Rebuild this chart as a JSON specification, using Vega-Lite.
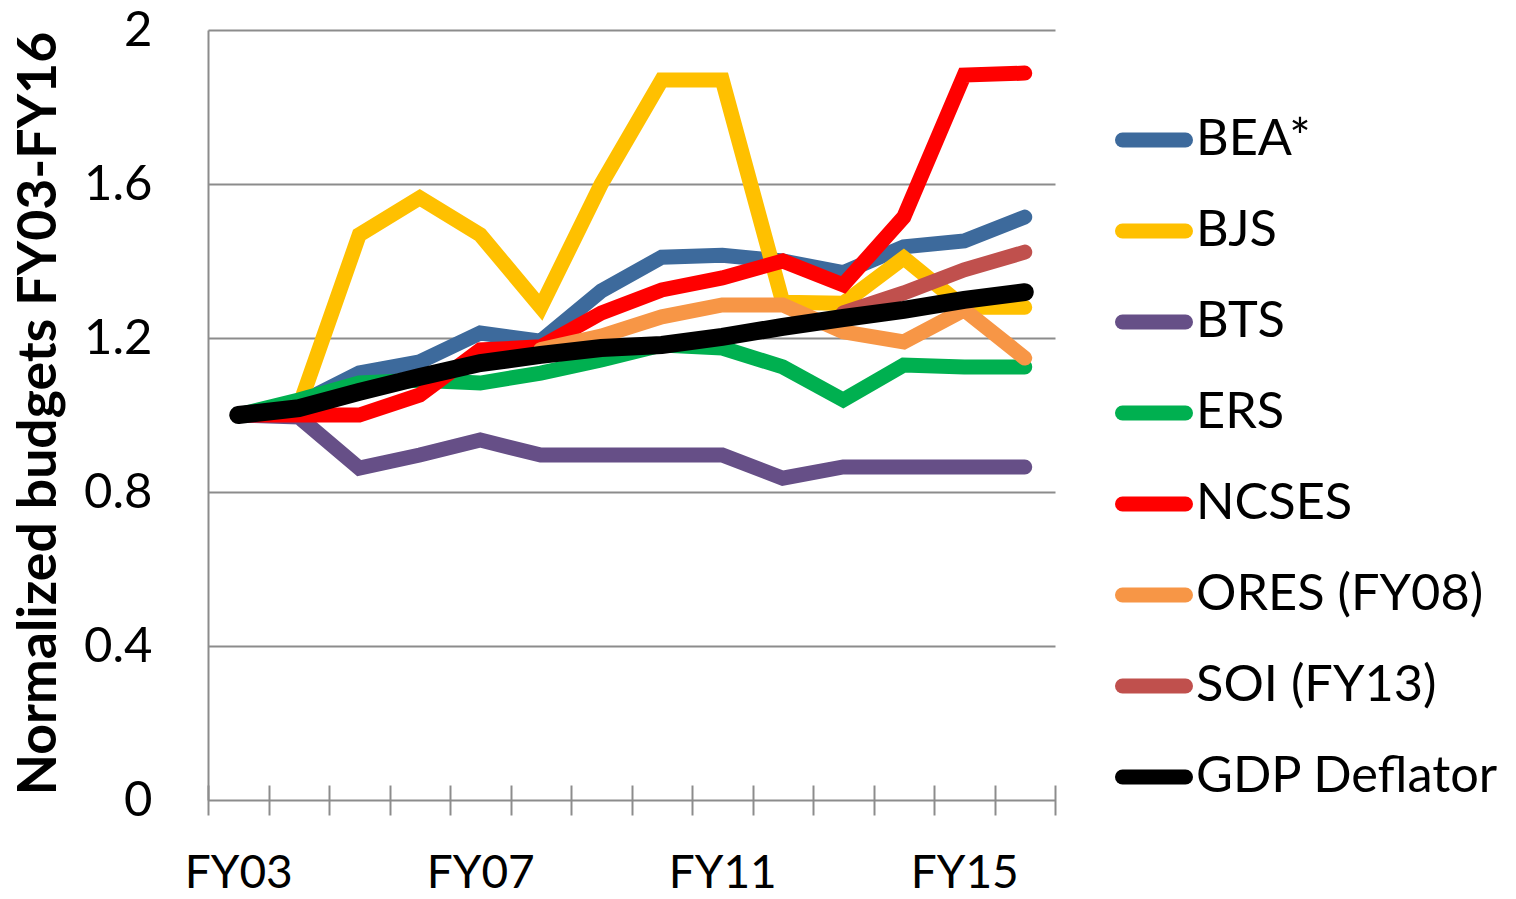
{
  "$schema": "https://vega.github.io/schema/vega-lite/v6.json",
  "width": 847,
  "height": 770,
  "autosize": "none",
  "padding": {"left": 208, "top": 30, "right": 461, "bottom": 99},
  "background": "white",
  "config": {"font": "Lato", "view": {"stroke": null}},
  "data": {"values": [
    {"series": "BEA*", "year": 2003, "value": 1.0},
    {"series": "BEA*", "year": 2004, "value": 1.03},
    {"series": "BEA*", "year": 2005, "value": 1.109},
    {"series": "BEA*", "year": 2006, "value": 1.138},
    {"series": "BEA*", "year": 2007, "value": 1.213},
    {"series": "BEA*", "year": 2008, "value": 1.192},
    {"series": "BEA*", "year": 2009, "value": 1.322},
    {"series": "BEA*", "year": 2010, "value": 1.41},
    {"series": "BEA*", "year": 2011, "value": 1.415},
    {"series": "BEA*", "year": 2012, "value": 1.4},
    {"series": "BEA*", "year": 2013, "value": 1.37},
    {"series": "BEA*", "year": 2014, "value": 1.437},
    {"series": "BEA*", "year": 2015, "value": 1.452},
    {"series": "BEA*", "year": 2016, "value": 1.514},
    {"series": "BJS", "year": 2003, "value": 1.0},
    {"series": "BJS", "year": 2004, "value": 1.02},
    {"series": "BJS", "year": 2005, "value": 1.468},
    {"series": "BJS", "year": 2006, "value": 1.564},
    {"series": "BJS", "year": 2007, "value": 1.468},
    {"series": "BJS", "year": 2008, "value": 1.28},
    {"series": "BJS", "year": 2009, "value": 1.6},
    {"series": "BJS", "year": 2010, "value": 1.87},
    {"series": "BJS", "year": 2011, "value": 1.87},
    {"series": "BJS", "year": 2012, "value": 1.293},
    {"series": "BJS", "year": 2013, "value": 1.29},
    {"series": "BJS", "year": 2014, "value": 1.408},
    {"series": "BJS", "year": 2015, "value": 1.28},
    {"series": "BJS", "year": 2016, "value": 1.28},
    {"series": "BTS", "year": 2003, "value": 1.0},
    {"series": "BTS", "year": 2004, "value": 0.995},
    {"series": "BTS", "year": 2005, "value": 0.862},
    {"series": "BTS", "year": 2006, "value": 0.896},
    {"series": "BTS", "year": 2007, "value": 0.935},
    {"series": "BTS", "year": 2008, "value": 0.896},
    {"series": "BTS", "year": 2009, "value": 0.896},
    {"series": "BTS", "year": 2010, "value": 0.896},
    {"series": "BTS", "year": 2011, "value": 0.896},
    {"series": "BTS", "year": 2012, "value": 0.836},
    {"series": "BTS", "year": 2013, "value": 0.865},
    {"series": "BTS", "year": 2014, "value": 0.865},
    {"series": "BTS", "year": 2015, "value": 0.865},
    {"series": "BTS", "year": 2016, "value": 0.865},
    {"series": "ERS", "year": 2003, "value": 1.0},
    {"series": "ERS", "year": 2004, "value": 1.039},
    {"series": "ERS", "year": 2005, "value": 1.083},
    {"series": "ERS", "year": 2006, "value": 1.09},
    {"series": "ERS", "year": 2007, "value": 1.083},
    {"series": "ERS", "year": 2008, "value": 1.109},
    {"series": "ERS", "year": 2009, "value": 1.143},
    {"series": "ERS", "year": 2010, "value": 1.182},
    {"series": "ERS", "year": 2011, "value": 1.174},
    {"series": "ERS", "year": 2012, "value": 1.125},
    {"series": "ERS", "year": 2013, "value": 1.039},
    {"series": "ERS", "year": 2014, "value": 1.13},
    {"series": "ERS", "year": 2015, "value": 1.125},
    {"series": "ERS", "year": 2016, "value": 1.125},
    {"series": "NCSES", "year": 2003, "value": 1.0},
    {"series": "NCSES", "year": 2004, "value": 1.0},
    {"series": "NCSES", "year": 2005, "value": 1.0},
    {"series": "NCSES", "year": 2006, "value": 1.052},
    {"series": "NCSES", "year": 2007, "value": 1.169},
    {"series": "NCSES", "year": 2008, "value": 1.177},
    {"series": "NCSES", "year": 2009, "value": 1.265},
    {"series": "NCSES", "year": 2010, "value": 1.325},
    {"series": "NCSES", "year": 2011, "value": 1.356},
    {"series": "NCSES", "year": 2012, "value": 1.4},
    {"series": "NCSES", "year": 2013, "value": 1.338},
    {"series": "NCSES", "year": 2014, "value": 1.514},
    {"series": "NCSES", "year": 2015, "value": 1.883},
    {"series": "NCSES", "year": 2016, "value": 1.888},
    {"series": "ORES (FY08)", "year": 2008, "value": 1.17},
    {"series": "ORES (FY08)", "year": 2009, "value": 1.205},
    {"series": "ORES (FY08)", "year": 2010, "value": 1.255},
    {"series": "ORES (FY08)", "year": 2011, "value": 1.286},
    {"series": "ORES (FY08)", "year": 2012, "value": 1.286},
    {"series": "ORES (FY08)", "year": 2013, "value": 1.216},
    {"series": "ORES (FY08)", "year": 2014, "value": 1.19},
    {"series": "ORES (FY08)", "year": 2015, "value": 1.273},
    {"series": "ORES (FY08)", "year": 2016, "value": 1.148},
    {"series": "SOI (FY13)", "year": 2013, "value": 1.265},
    {"series": "SOI (FY13)", "year": 2014, "value": 1.317},
    {"series": "SOI (FY13)", "year": 2015, "value": 1.377},
    {"series": "SOI (FY13)", "year": 2016, "value": 1.423},
    {"series": "GDP Deflator", "year": 2003, "value": 1.0},
    {"series": "GDP Deflator", "year": 2004, "value": 1.018},
    {"series": "GDP Deflator", "year": 2005, "value": 1.06},
    {"series": "GDP Deflator", "year": 2006, "value": 1.099},
    {"series": "GDP Deflator", "year": 2007, "value": 1.135},
    {"series": "GDP Deflator", "year": 2008, "value": 1.156},
    {"series": "GDP Deflator", "year": 2009, "value": 1.174},
    {"series": "GDP Deflator", "year": 2010, "value": 1.182},
    {"series": "GDP Deflator", "year": 2011, "value": 1.203},
    {"series": "GDP Deflator", "year": 2012, "value": 1.229},
    {"series": "GDP Deflator", "year": 2013, "value": 1.252},
    {"series": "GDP Deflator", "year": 2014, "value": 1.273},
    {"series": "GDP Deflator", "year": 2015, "value": 1.299},
    {"series": "GDP Deflator", "year": 2016, "value": 1.319}
  ]},
  "mark": {"type": "line", "strokeCap": "round", "strokeJoin": "miter"},
  "encoding": {
    "x": {
      "field": "year",
      "type": "quantitative",
      "scale": {"domain": [2002.5, 2016.5], "nice": false, "zero": false},
      "axis": {
        "title": null,
        "values": [2002.5, 2003.5, 2004.5, 2005.5, 2006.5, 2007.5, 2008.5, 2009.5, 2010.5, 2011.5, 2012.5, 2013.5, 2014.5, 2015.5, 2016.5],
        "grid": false,
        "domain": false,
        "tickColor": "#8c8c8c",
        "tickWidth": 2,
        "tickSize": 30,
        "offset": -15,
        "labelExpr": "datum.value == 2002.5 ? 'FY03' : datum.value == 2006.5 ? 'FY07' : datum.value == 2010.5 ? 'FY11' : datum.value == 2014.5 ? 'FY15' : ''",
        "labelOffset": 30.25,
        "labelFont": "Lato",
        "labelFontSize": 46,
        "labelColor": "black",
        "labelPadding": 36,
        "labelBaseline": "top",
        "labelFlush": false,
        "labelOverlap": false,
        "labelBound": false
      }
    },
    "y": {
      "field": "value",
      "type": "quantitative",
      "scale": {"domain": [0, 2], "nice": false},
      "axis": {
        "title": "Normalized budgets FY03-FY16",
        "values": [0, 0.4, 0.8, 1.2, 1.6, 2],
        "format": ".1~f",
        "grid": true,
        "gridColor": "#8c8c8c",
        "gridWidth": 2,
        "domainColor": "#8c8c8c",
        "domainWidth": 2,
        "ticks": false,
        "tickSize": 0,
        "labelPadding": 56,
        "labelFont": "Lato",
        "labelFontSize": 49,
        "labelColor": "black",
        "titleFont": "Lato",
        "titleFontSize": 53.5,
        "titleFontWeight": "bold",
        "titleColor": "black",
        "titleX": -153,
        "titleY": 383,
        "titleAngle": 270,
        "titleBaseline": "alphabetic",
        "titleAlign": "center"
      }
    },
    "color": {
      "field": "series",
      "type": "nominal",
      "sort": null,
      "scale": {
        "domain": ["BEA*", "BJS", "BTS", "ERS", "NCSES", "ORES (FY08)", "SOI (FY13)", "GDP Deflator"],
        "range": ["#3D6A9C", "#FFC000", "#664F87", "#00B050", "#FF0000", "#F79646", "#C0504D", "#000000"]
      },
      "legend": {
        "orient": "none",
        "legendX": 907,
        "legendY": 71,
        "title": null,
        "symbolType": "stroke",
        "symbolSize": 3969,
        "symbolStrokeWidth": 15,
        "symbolOpacity": 1,
        "labelFont": "Lato",
        "labelFontSize": 50.5,
        "labelColor": "black",
        "labelOffset": 3,
        "labelLimit": 500,
        "rowPadding": 22,
        "padding": 0,
        "encode": {"symbols": {"update": {"strokeCap": {"value": "round"}}}}
      }
    },
    "strokeWidth": {
      "condition": {"test": "datum.series === 'GDP Deflator'", "value": 18},
      "value": 15
    }
  }
}
